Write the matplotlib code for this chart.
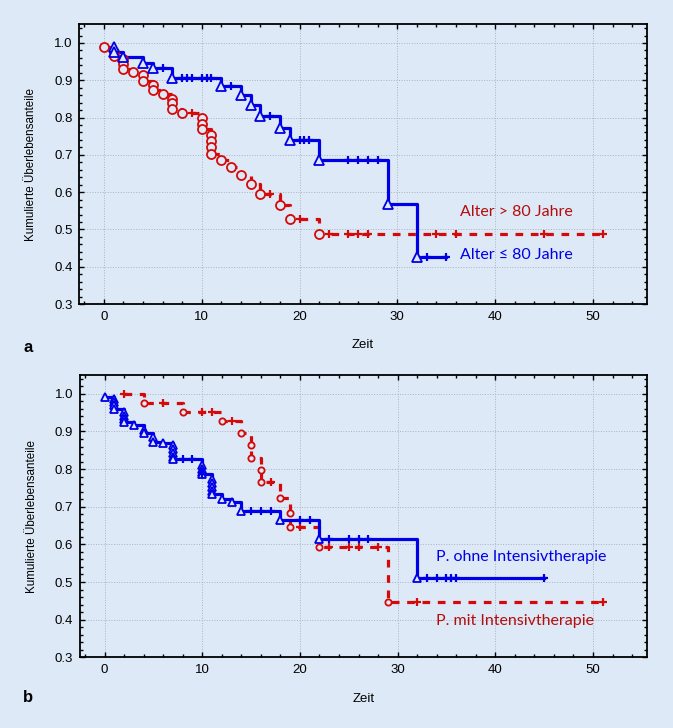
import matplotlib
matplotlib.use('Agg')
import matplotlib.pyplot as plt
from matplotlib.ticker import MultipleLocator

# Panel a: Alter <= 80 Jahre (blue) / Alter > 80 Jahre (red)
a_blue_t = [1, 1, 2, 4, 5, 7, 12, 14, 15, 16, 18, 19, 22, 29, 32]
a_blue_s = [0.988, 0.975, 0.962, 0.947, 0.932, 0.905, 0.884, 0.86, 0.833, 0.805, 0.771, 0.739, 0.685, 0.569, 0.427]
a_blue_c = [6, 8, 8.5, 9, 10, 10.5, 11, 13, 17, 20, 20.5, 21, 25, 26, 27, 28, 33, 35]

a_red_t = [0, 1, 1, 2, 2, 2, 3, 4, 4, 5, 5, 6, 7, 7, 7, 8, 10, 10, 10, 11, 11, 11, 11,
           12, 13, 14, 15, 16, 18, 19, 22]
a_red_s = [0.99, 0.977, 0.965, 0.956, 0.944, 0.930, 0.923, 0.914, 0.898, 0.887, 0.874,
           0.863, 0.849, 0.838, 0.824, 0.813, 0.798, 0.784, 0.768, 0.753, 0.737, 0.721,
           0.703, 0.687, 0.667, 0.645, 0.623, 0.596, 0.565, 0.529, 0.488]
a_red_c = [9, 17, 20, 23, 25, 26, 27, 34, 36, 45, 51]

# Panel b: ohne Intensivtherapie (blue) / mit Intensivtherapie (red)
b_blue_t = [0, 1, 1, 1, 1, 2, 2, 2, 2, 3, 4, 4, 5, 5, 6, 7, 7, 7, 7, 7,
            10, 10, 10, 10, 11, 11, 11, 11, 11, 12, 13, 14, 18, 22, 32]
b_blue_s = [0.991, 0.987, 0.978, 0.969, 0.960, 0.951, 0.942, 0.933, 0.924, 0.916,
            0.903, 0.897, 0.885, 0.872, 0.869, 0.863, 0.853, 0.843, 0.833, 0.826,
            0.81, 0.80, 0.793, 0.787, 0.775, 0.763, 0.752, 0.742, 0.735, 0.721,
            0.712, 0.689, 0.664, 0.613, 0.511]
b_blue_c = [8, 9, 10, 15, 16, 17, 20, 21, 23, 25, 26, 27, 33, 34, 35, 35.5, 36, 45]

b_red_start = 2
b_red_t = [4, 8, 12, 14, 15, 15, 16, 16, 18, 19, 19, 22, 29]
b_red_s = [0.975, 0.951, 0.927, 0.897, 0.863, 0.830, 0.798, 0.765, 0.724, 0.683,
           0.645, 0.593, 0.446]
b_red_c = [2, 6, 10, 11, 13, 17, 20, 23, 25, 26, 28, 32, 51]

blue = '#0000e6'
red = '#d40a0a'
red_txt = '#b40d0d'
bg = '#dde9f6'


def surv_at(t_ev, s_ev, t):
    s = 1.0
    for te, se in zip(t_ev, s_ev):
        if te <= t:
            s = se
    return s


def km(ax, t_ev, s_ev, cens, color, dashed, marker, ms, start=None):
    xs = list(t_ev)
    ys = list(s_ev)
    if start is not None:
        xs = [start] + xs
        ys = [1.0] + ys
    xs.append(max(cens))
    ys.append(ys[-1])
    line, = ax.step(xs, ys, where='post', color=color, lw=2.3, zorder=3)
    if dashed:
        line.set_dashes((2.4, 2.4))
    ax.plot(t_ev, s_ev, ls='none', marker=marker, ms=ms, mfc=bg, mec=color,
            mew=1.3, zorder=4)
    cy = [surv_at(t_ev, s_ev, c) for c in cens]
    ax.plot(cens, cy, ls='none', marker='+', ms=6, mec=color, mew=1.6, zorder=4)


fig = plt.figure(figsize=(6.73, 7.28), dpi=100, facecolor=bg)
ax_a = fig.add_axes([0.118, 0.5824, 0.843, 0.3842])
ax_b = fig.add_axes([0.119, 0.0971, 0.842, 0.3878])

km(ax_a, a_red_t, a_red_s, a_red_c, red, True, 'o', 6.5)
km(ax_a, a_blue_t, a_blue_s, a_blue_c, blue, False, '^', 6.5)

km(ax_b, b_red_t, b_red_s, b_red_c, red, True, 'o', 4.5, start=b_red_start)
km(ax_b, b_blue_t, b_blue_s, b_blue_c, blue, False, '^', 6)

ax_a.text(36.4, 0.548, 'Alter > 80 Jahre', color=red_txt, fontsize=11.5,
          family='Lato', va='center', ha='left')
ax_a.text(36.4, 0.431, 'Alter \u2264 80 Jahre', color=blue, fontsize=11.5,
          family=['Lato', 'DejaVu Sans'], va='center', ha='left')
ax_b.text(33.9, 0.567, 'P. ohne Intensivtherapie', color=blue, fontsize=11.5,
          family='Lato', va='center', ha='left')
ax_b.text(33.9, 0.397, 'P. mit Intensivtherapie', color=red_txt, fontsize=11.5,
          family='Lato', va='center', ha='left')

for ax in (ax_a, ax_b):
    ax.set_facecolor(bg)
    ax.set_xlim(-2.5, 55.5)
    ax.set_ylim(0.3, 1.05)
    ax.xaxis.set_major_locator(MultipleLocator(10))
    ax.xaxis.set_minor_locator(MultipleLocator(2))
    ax.yaxis.set_minor_locator(MultipleLocator(0.02))
    ax.set_yticks([0.3, 0.4, 0.5, 0.6, 0.7, 0.8, 0.9, 1.0])
    ax.set_yticklabels(['0.3', '0.4', '0.5', '0.6', '0.7', '0.8', '0.9', '1.0'])
    ax.tick_params(which='both', direction='in', top=True, right=True,
                   labelsize=9.5, width=1.0)
    ax.tick_params(which='major', length=3.5, pad=5)
    ax.tick_params(which='minor', length=2)
    for lab in ax.get_xticklabels() + ax.get_yticklabels():
        lab.set_family('Liberation Sans')
    ax.grid(True, which='major', ls=':', lw=0.7, color='#a9b3bf', zorder=0)
    for sp in ax.spines.values():
        sp.set_linewidth(1.3)
    ax.set_xlabel('Zeit', family='Liberation Sans', fontsize=9.5)
    ax.set_ylabel('Kumulierte \u00dcberlebensanteile', family='Liberation Sans', fontsize=8.4)
    ax.xaxis.set_label_coords(0.5, -0.125)
    ax.yaxis.set_label_coords(-0.075, 0.5)

fig.text(28 / 673, 1 - 347 / 728, 'a', fontsize=12, fontweight='bold',
         family='Liberation Sans', ha='center', va='center')
fig.text(28 / 673, 1 - 697 / 728, 'b', fontsize=12, fontweight='bold',
         family='Liberation Sans', ha='center', va='center')

plt.savefig('out.png', dpi=100, facecolor=bg)
